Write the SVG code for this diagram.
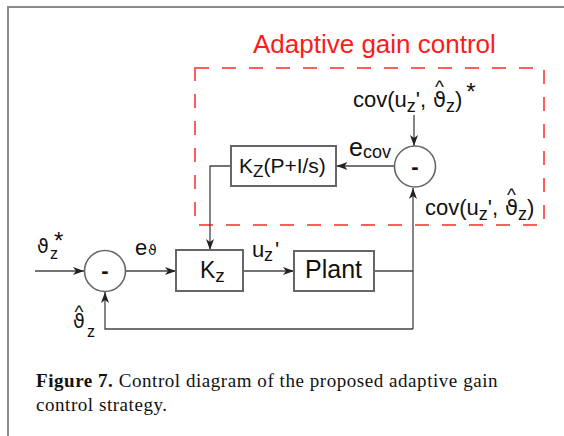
<svg xmlns="http://www.w3.org/2000/svg" width="564" height="436" viewBox="0 0 564 436">
<style>
.lbl{font-family:"Liberation Sans","DejaVu Sans",Arial,sans-serif;fill:#111}
.th{font-family:"DejaVu Sans","Liberation Sans",sans-serif}
.hat{font-size:19px}
.sub{font-size:18px}
.box{fill:#fff;stroke:#666;stroke-width:2}
.sum{fill:#fff;stroke:#666;stroke-width:1.6}
.wire{fill:none;stroke:#444;stroke-width:1.3}
.cap{font-family:"Liberation Serif","Times New Roman",serif;font-size:19px;letter-spacing:0.55px;fill:#111}
</style>
<defs>
<marker id="arr" markerUnits="userSpaceOnUse" markerWidth="12" markerHeight="8" refX="11" refY="4" orient="auto">
<path d="M0,0 L11,4 L0,8 L3,4 Z" fill="#222"/>
</marker>
</defs>
<rect x="8" y="7" width="620" height="520" fill="none" stroke="#8a8a8a" stroke-width="2"/>
<text class="lbl" x="253" y="53" font-size="26" style="fill:#ff1a1a">Adaptive gain control</text>
<rect id="adaptive-region" x="195" y="68" width="349" height="157" fill="none" stroke="#ff5c5c" stroke-width="2" stroke-dasharray="14 13"/>
<g id="connectors">
<path class="wire" d="M35,271 H84" marker-end="url(#arr)"/>
<path class="wire" d="M125.5,271 H176" marker-end="url(#arr)"/>
<path class="wire" d="M243,271 H294" marker-end="url(#arr)"/>
<path class="wire" d="M374,271 H413"/>
<path class="wire" d="M413,329 V188" marker-end="url(#arr)"/>
<path class="wire" d="M413,329 H105 V292" marker-end="url(#arr)"/>
<path class="wire" d="M414,115 V146" marker-end="url(#arr)"/>
<path class="wire" d="M394.5,166 H336.5" marker-end="url(#arr)"/>
<path class="wire" d="M231,166 H210 V250" marker-end="url(#arr)"/>
</g>
<g id="sum1">
<circle class="sum" cx="105" cy="271" r="20.5"/>
<text class="lbl" x="105" y="278" font-size="22" font-weight="bold" text-anchor="middle">-</text>
</g>
<g id="sum2">
<circle class="sum" cx="415" cy="166.5" r="20.5"/>
<text class="lbl" x="415" y="173.5" font-size="22" font-weight="bold" text-anchor="middle">-</text>
</g>
<g id="kz">
<rect class="box" x="176" y="250" width="67" height="41"/>
<text class="lbl" x="200" y="278" font-size="23">K<tspan font-size="19" dy="4">z</tspan></text>
</g>
<g id="plant">
<rect class="box" x="294" y="251" width="80" height="40"/>
<text class="lbl" x="305" y="278" font-size="25">Plant</text>
</g>
<g id="kzpi">
<rect class="box" x="231" y="146" width="105" height="40"/>
<text class="lbl" x="239" y="173" font-size="21">K<tspan font-size="17" dy="4">Z</tspan><tspan dy="-4">(P+I/s)</tspan></text>
</g>
<g id="labels">
<text class="lbl" x="37" y="253" font-size="19"><tspan class="th">ϑ</tspan><tspan x="50" dy="6" font-size="16">z</tspan><tspan x="54" dy="-10" font-size="24">*</tspan></text>
<text class="lbl" x="135" y="255" font-size="22">e<tspan class="th" x="148" font-size="14">ϑ</tspan></text>
<text class="lbl" x="252" y="257" font-size="22">u<tspan x="264" dy="4" font-size="18">z</tspan><tspan x="275" dy="-4">'</tspan></text>
<text class="lbl" font-size="19"><tspan class="hat" x="74.5" y="318">^</tspan><tspan class="th" x="73" y="328">ϑ</tspan><tspan x="87" y="337" font-size="16">z</tspan></text>
<text class="lbl" x="349" y="156" font-size="25">e<tspan x="363" dy="2" font-size="18">cov</tspan></text>
<text class="lbl" x="353" y="107" font-size="22">cov(u<tspan class="sub" dy="5">z</tspan><tspan dy="-5">',</tspan><tspan class="hat" x="435" y="93">^</tspan><tspan class="th" x="433" y="107" font-size="21">ϑ</tspan><tspan class="sub" dy="5">z</tspan><tspan dy="-5">)</tspan><tspan dx="4" y="100" font-size="24">*</tspan></text>
<text class="lbl" x="425" y="215" font-size="22">cov(u<tspan class="sub" dy="5">z</tspan><tspan dy="-5">',</tspan><tspan class="hat" x="507" y="201">^</tspan><tspan class="th" x="505" y="215" font-size="21">ϑ</tspan><tspan class="sub" dy="5">z</tspan><tspan dy="-5">)</tspan></text>
</g>
<text class="cap" x="36" y="387"><tspan font-weight="bold">Figure 7.</tspan> Control diagram of the proposed adaptive gain</text>
<text class="cap" x="36" y="411">control strategy.</text>
</svg>
